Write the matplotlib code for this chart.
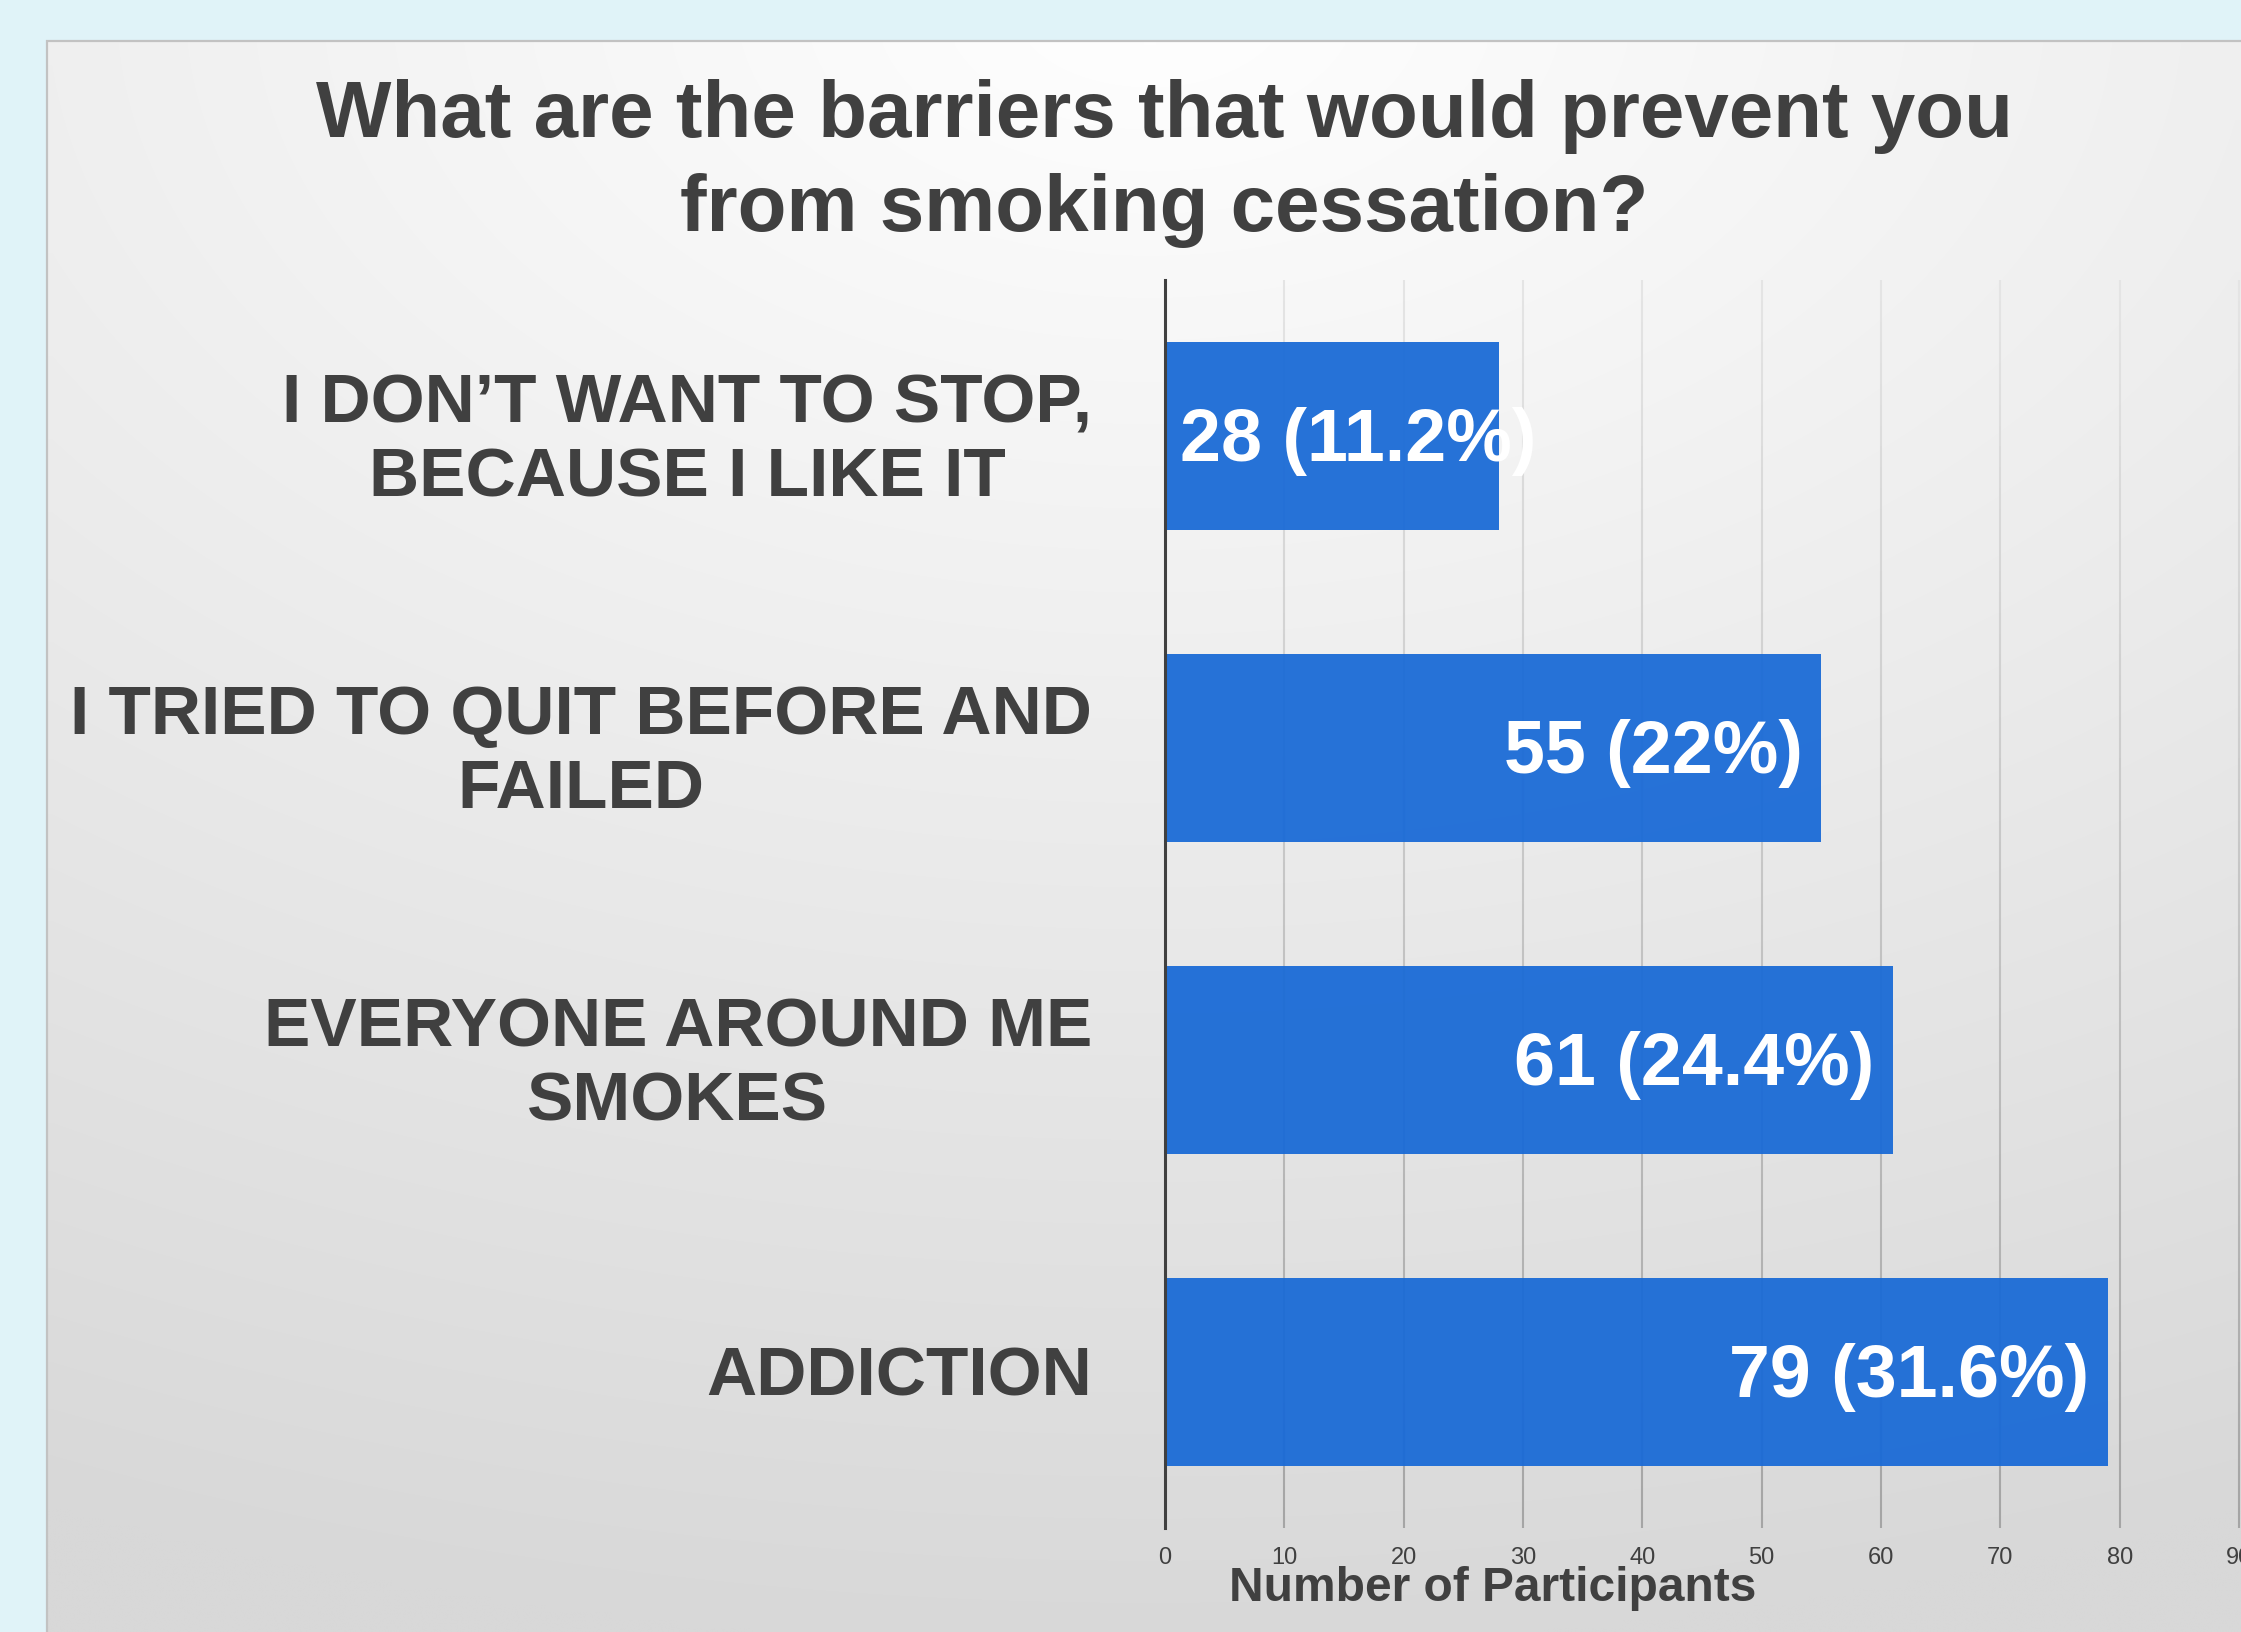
import numpy as np
import matplotlib
matplotlib.use("Agg")
import matplotlib.pyplot as plt
from matplotlib.collections import LineCollection
from matplotlib.patches import Rectangle

plt.rcParams['font.family'] = ['Liberation Sans', 'DejaVu Sans']

# data
title_lines = ["What are the barriers that would prevent you", "from smoking cessation?"]
categories = ["I DON\u2019T WANT TO STOP,\nBECAUSE I LIKE IT",
              "I TRIED TO QUIT BEFORE AND\nFAILED",
              "EVERYONE AROUND ME\nSMOKES",
              "ADDICTION"]
counts = [28, 55, 61, 79]
percents = ["11.2%", "22%", "24.4%", "31.6%"]
xticks = list(range(0, 91, 10))
xlabel = "Number of Participants"

W, H = 2241, 1633
DARK = '#404040'
fig = plt.figure(figsize=(W / 100, H / 100), dpi=100)
fig.patch.set_facecolor('#E0F3F8')

# panel with soft gradient
bg = fig.add_axes([47 / W, 0, (W - 47) / W, (H - 42) / H])
gx, gy = np.meshgrid(np.linspace(47, W, 200), np.linspace(42, H, 200))
t = np.clip(np.sqrt(((gx - 1150) / 2700) ** 2 + (gy / 1650) ** 2), 0, 1)
g = (255 - 39 * t) / 255
bg.imshow(np.dstack([g, g, g]), aspect='auto', extent=[0, 1, 0, 1], origin='upper',
          interpolation='bilinear')
bg.set_axis_off()
fig.patches.append(Rectangle((47 / W, -0.01), 1.0, (H - 42) / H + 0.01, transform=fig.transFigure,
                             fill=False, edgecolor='#C2C2C2', lw=1.6, zorder=1))

ax = fig.add_axes([1165 / W, 1 - 1529 / H, (2239 - 1165) / W, (1529 - 281) / H])
ax.set_facecolor('none')
y = np.arange(len(categories))
ax.barh(y, counts, height=0.6, color='#196AD6', alpha=0.94, zorder=2)
ax.set_xlim(0, 90)
ax.set_ylim(len(categories) - 0.5, -0.5)

# gridlines fading darker toward the bottom
ys = np.linspace(-0.5, len(categories) - 0.5, 61)
segs, cols = [], []
for xv in xticks[1:]:
    for k in range(len(ys) - 1):
        segs.append([(xv, ys[k]), (xv, ys[k + 1])])
        v = (228 - (228 - 165) * k / (len(ys) - 2)) / 255
        cols.append((v, v, v))
ax.add_collection(LineCollection(segs, colors=cols, linewidths=1.5, zorder=1, clip_on=False))

for s in ['top', 'right', 'bottom']:
    ax.spines[s].set_visible(False)
ax.spines['left'].set_color(DARK)
ax.spines['left'].set_linewidth(2.2)
ax.spines['left'].set_zorder(3)

ax.set_xticks(xticks)
ax.tick_params(axis='x', length=0, pad=13, labelsize=17, labelcolor=DARK)
ax.set_yticks([])

for i, (c, p) in enumerate(zip(counts, percents)):
    lab = f"{c} ({p})"
    if c > 35:
        ax.annotate(lab, (c, i), xytext=(-13.5, -3.5), textcoords='offset points', ha='right',
                    va='center', color='white', fontsize=53, fontweight='bold', zorder=4)
    else:
        ax.annotate(lab, (0, i), xytext=(11, -3), textcoords='offset points', ha='left',
                    va='center', color='white', fontsize=53, fontweight='bold', zorder=4,
                    annotation_clip=False)
    ax.annotate(categories[i], (0, i), xytext=(-52.5, -3), textcoords='offset points',
                ha='right', va='center', multialignment='center', linespacing=1.2,
                color=DARK, fontsize=50, fontweight='bold', annotation_clip=False)

fig.text(1164 / W, 1 - 137 / H, title_lines[0], ha='center', va='baseline',
         fontsize=57.5, fontweight='bold', color=DARK)
fig.text(1164 / W, 1 - 231 / H, title_lines[1], ha='center', va='baseline',
         fontsize=57.5, fontweight='bold', color=DARK)
fig.text(1493 / W, 1 - 1601 / H, xlabel, ha='center', va='baseline',
         fontsize=34.5, fontweight='bold', color=DARK)

fig.savefig('out.png', dpi=100, facecolor=fig.get_facecolor())
